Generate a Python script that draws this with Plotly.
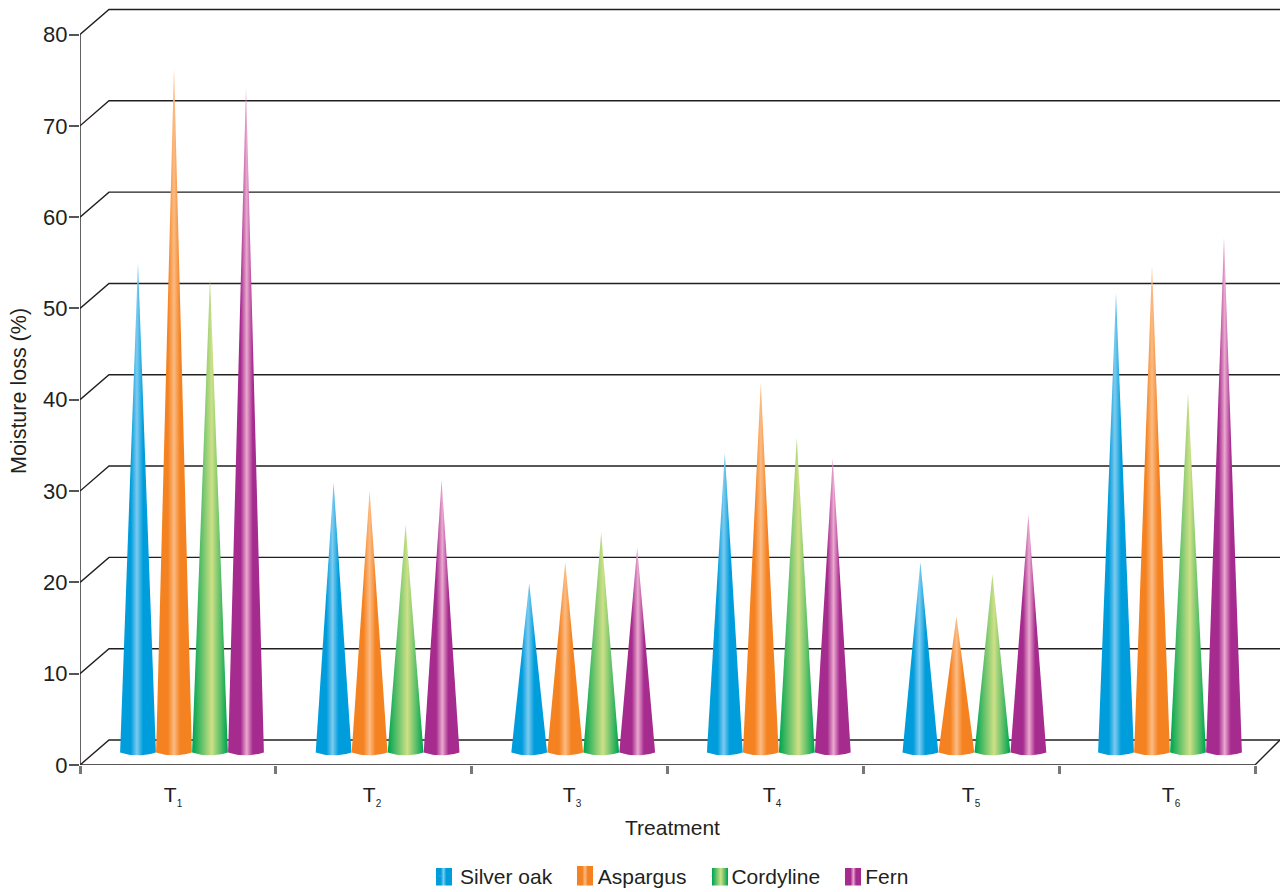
import numpy as np
import plotly.graph_objects as go

categories = ["T1", "T2", "T3", "T4", "T5", "T6"]
tick_labels = ['T<sub><span style="font-size:10px">%d</span></sub>' % n for n in range(1, 7)]
silver_oak = [55.0, 30.9, 19.9, 34.2, 22.2, 51.7]
aspargus = [76.3, 30.0, 22.2, 41.8, 16.3, 54.7]
cordyline = [53.3, 26.3, 25.5, 35.9, 20.9, 40.7]
fern = [74.2, 31.2, 23.8, 33.6, 27.4, 57.8]
y_ticks = [0, 10, 20, 30, 40, 50, 60, 70, 80]

INK = "#231F20"
FONT = "Liberation Sans, Arial, sans-serif"
PX_X = 1175 / 6        # pixels per category
PX_Y = 730.5 / 80      # pixels per percent
DX, DY = 29 / PX_X, 25 / PX_Y   # depth of the 3D wall
TOP, BOTTOM, AXIS_Y = 5, 892, 765
PLOT_H = BOTTOM - TOP


def paper_y(px):
    return (BOTTOM - px) / PLOT_H


def gradient(base, light, pos, soft):
    if soft:
        return [[0, base], [0.02, base], [pos, light], [0.98, base], [1, base]]
    return [[0, base], [pos - 0.17, base], [pos, light], [pos + 0.17, base], [1, base]]


series = [
    ("Silver oak", silver_oak, "#009DDC", "#7CCBF0", 0.47, False, 436, 868),
    ("Aspargus", aspargus, "#F58220", "#FBBB84", 0.50, False, 577, 866),
    ("Cordyline", cordyline, "#00A651", "#CFE086", 0.55, True, 712, 868),
    ("Fern", fern, "#A62B8E", "#EBA9CF", 0.52, False, 845, 868),
]

fig = go.Figure()

# back wall grid lines and front axis lines
gx, gy = [], []
for v in y_ticks:
    gx += [0, DX, 1200 / PX_X, None]
    gy += [v, v + DY, v + DY, None]
gx += [0, 0, None, 0, 6, 6 + 25 / PX_X]
gy += [0, 80, None, 0, 0, 25 / PX_Y]
fig.add_trace(go.Scatter(x=gx, y=gy, mode="lines", line=dict(color=INK, width=1.4),
                         showlegend=False, hoverinfo="skip"))

# cones
half = 17.9 / PX_X
t = np.linspace(-1, 1, 21)
for j, (name, vals, base, light, pos, soft, sx, sy) in enumerate(series):
    scale = gradient(base, light, pos, soft)
    for i, v in enumerate(vals):
        c = (192 - 80 + 195.6 * i + (j - 1.5) * 36) / PX_X
        xs = list(c + half * t) + [c, c - half]
        ys = list(1.06 + 0.3 * t ** 2) + [v, 1.36]
        fig.add_trace(go.Scatter(
            x=xs, y=ys, mode="lines", fill="toself", line=dict(width=0, color=base),
            fillgradient=dict(type="horizontal", colorscale=scale),
            name=name, legendgroup=name, showlegend=False, hoverinfo="name"))
    # legend entry (text only), its gradient swatch is drawn in the strip below
    fig.add_trace(go.Scatter(x=[None], y=[None], mode="markers", marker=dict(size=1, opacity=0),
                             name=name, legendgroup=name, showlegend=True))
    fig.add_trace(go.Scatter(
        x=[sx, sx + 16, sx + 16, sx, sx], y=[sy, sy, 885.5, 885.5, sy], xaxis="x2", yaxis="y2",
        mode="lines", fill="toself", line=dict(width=0, color=base),
        fillgradient=dict(type="horizontal", colorscale=scale),
        legendgroup=name, showlegend=False, hoverinfo="skip"))

fig.update_layout(
    width=1280, height=892, margin=dict(l=80, r=0, t=TOP, b=0, autoexpand=False),
    paper_bgcolor="white", plot_bgcolor="white",
    font=dict(family=FONT, color=INK, size=20),
    xaxis=dict(range=[0, 1200 / PX_X], showgrid=False, zeroline=False, showline=False,
               tickmode="array", tickvals=[(x - 80) / PX_X for x in (173, 372, 572, 772, 971, 1171)],
               ticktext=tick_labels, ticks="outside", ticklen=11, tickcolor="rgba(0,0,0,0)",
               tickfont=dict(size=21),
               minor=dict(ticks="outside", tick0=0, dtick=1, ticklen=8, tickwidth=3, tickcolor="#777777")),
    yaxis=dict(domain=[paper_y(AXIS_Y), 1], range=[0, (AXIS_Y - TOP) / PX_Y], showgrid=False,
               zeroline=False, showline=False, tickmode="array", tickvals=y_ticks, ticks="outside",
               ticklen=10, tickwidth=1.5, tickcolor="#555555", tickfont=dict(size=22),
               ticklabelstandoff=-3),
    xaxis2=dict(anchor="y2", overlaying="x", range=[80, 1280], visible=False),
    yaxis2=dict(domain=[0, paper_y(860)], range=[BOTTOM, 860], visible=False),
    legend=dict(orientation="h", xref="paper", yref="paper", x=(667 - 80) / 1200, xanchor="center",
                y=paper_y(876.5), yanchor="middle", font=dict(size=21), bgcolor="rgba(0,0,0,0)"),
    annotations=[
        dict(text="Treatment", xref="paper", yref="paper", x=(672 - 80) / 1200, y=paper_y(827.5),
             showarrow=False, font=dict(size=21), xanchor="center", yanchor="middle"),
        dict(text="Moisture loss (%)", xref="paper", yref="paper", x=(19 - 80) / 1200, y=paper_y(391),
             showarrow=False, font=dict(size=21.5), textangle=-90, xanchor="center", yanchor="middle"),
    ],
)

fig.write_html("out.html", config=dict(displayModeBar=False),
               post_script="document.body.style.margin='0';")
